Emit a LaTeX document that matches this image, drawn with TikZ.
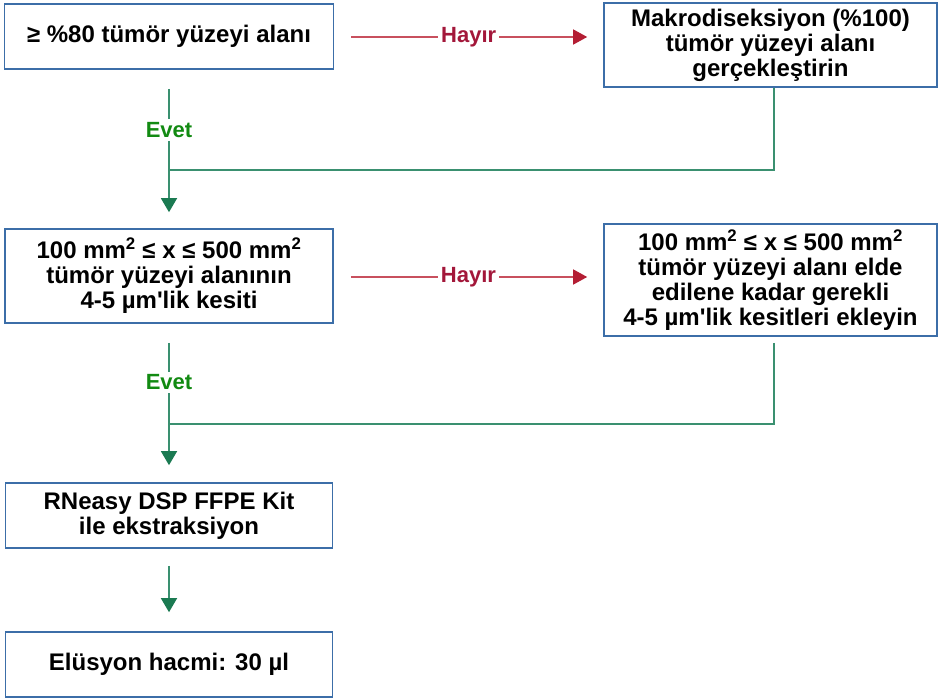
\documentclass[tikz,border=0pt]{standalone}
\usepackage{fontspec}
\setmainfont{Liberation Sans}
\usetikzlibrary{arrows.meta}

\definecolor{boxblue}{HTML}{3C6EA8}
\definecolor{hayirline}{HTML}{C8505E}
\definecolor{hayirtip}{HTML}{B41E34}
\definecolor{hayirtext}{HTML}{A3173A}
\definecolor{evetline}{HTML}{3A9070}
\definecolor{evettip}{HTML}{1B7A52}
\definecolor{evettext}{HTML}{128A12}

\begin{document}
\begin{tikzpicture}[x=1pt,y=-1pt,
    box/.style={draw=boxblue,line width=1.6pt,fill=white,align=center,inner sep=0pt,
      font=\fontsize{24}{25}\selectfont\bfseries},
    hayir/.style={draw=hayirline,line width=1.4pt,
      -{Triangle[length=14pt,width=15pt,color=hayirtip]}},
    evet/.style={draw=evetline,line width=1.4pt,
      -{Triangle[length=14pt,width=16pt,color=evettip]}},
    evetjoin/.style={draw=evetline,line width=1.4pt},
    hayirlbl/.style={fill=white,inner sep=3pt,text=hayirtext,font=\fontsize{22}{22}\selectfont\bfseries},
    evetlbl/.style={fill=white,inner sep=3pt,text=evettext,font=\fontsize{22}{22}\selectfont\bfseries}]
  \useasboundingbox (0,0) rectangle (938,700);

  % left column
  \node[box,minimum width=329,minimum height=65] at (169,36.5) (b80) {≥ \%80 tümör yüzeyi alanı};
  \node[box,minimum width=328,minimum height=94] at (169,276) (kesit)
    {100 mm\textsuperscript{2} ≤ x ≤ 500 mm\textsuperscript{2}\\ tümör yüzeyi alanının\\ 4-5 µm\textquotesingle lik kesiti};
  \node[box,minimum width=327,minimum height=65] at (169,515.5) (rneasy)
    {RNeasy DSP FFPE Kit\\ ile ekstraksiyon};
  \node[box,minimum width=327,minimum height=65] at (169,664.5) (elusyon) {Elüsyon hacmi: 30 µl};

  % right column
  \node[box,minimum width=333,minimum height=84] at (770.5,45) (makro)
    {Makrodiseksiyon (\%100)\\ tümör yüzeyi alanı\\ gerçekleştirin};
  \node[box,minimum width=333,minimum height=112] at (770.5,280) (ekle)
    {100 mm\textsuperscript{2} ≤ x ≤ 500 mm\textsuperscript{2}\\ tümör yüzeyi alanı elde\\ edilene kadar gerekli\\ 4-5 µm\textquotesingle lik kesitleri ekleyin};

  \coordinate (j1) at (169,170);
  \coordinate (j2) at (169,424);

  % Hayir
  \draw[hayir,shorten <=17pt,shorten >=16pt] (b80.east |- 0,37) -- node[hayirlbl] {Hayır} (makro.west |- 0,37);
  \draw[hayir,shorten <=17pt,shorten >=16pt] (kesit.east |- 0,277) -- node[hayirlbl] {Hayır} (ekle.west |- 0,277);

  % Evet
  \draw[evet,shorten <=19pt,shorten >=16pt] (b80) -- node[evetlbl,pos=0.38] {Evet} (kesit);
  \draw[evet,shorten <=19pt,shorten >=17pt] (kesit) -- node[evetlbl,pos=0.37] {Evet} (rneasy);
  \draw[evet,shorten <=17pt,shorten >=19pt] (rneasy) -- (elusyon);

  % joins
  \draw[evetjoin] ([xshift=3.5pt]makro.south) |- (j1);
  \draw[evetjoin,shorten <=6pt] ([xshift=3.5pt]ekle.south) |- (j2);
\end{tikzpicture}
\end{document}
